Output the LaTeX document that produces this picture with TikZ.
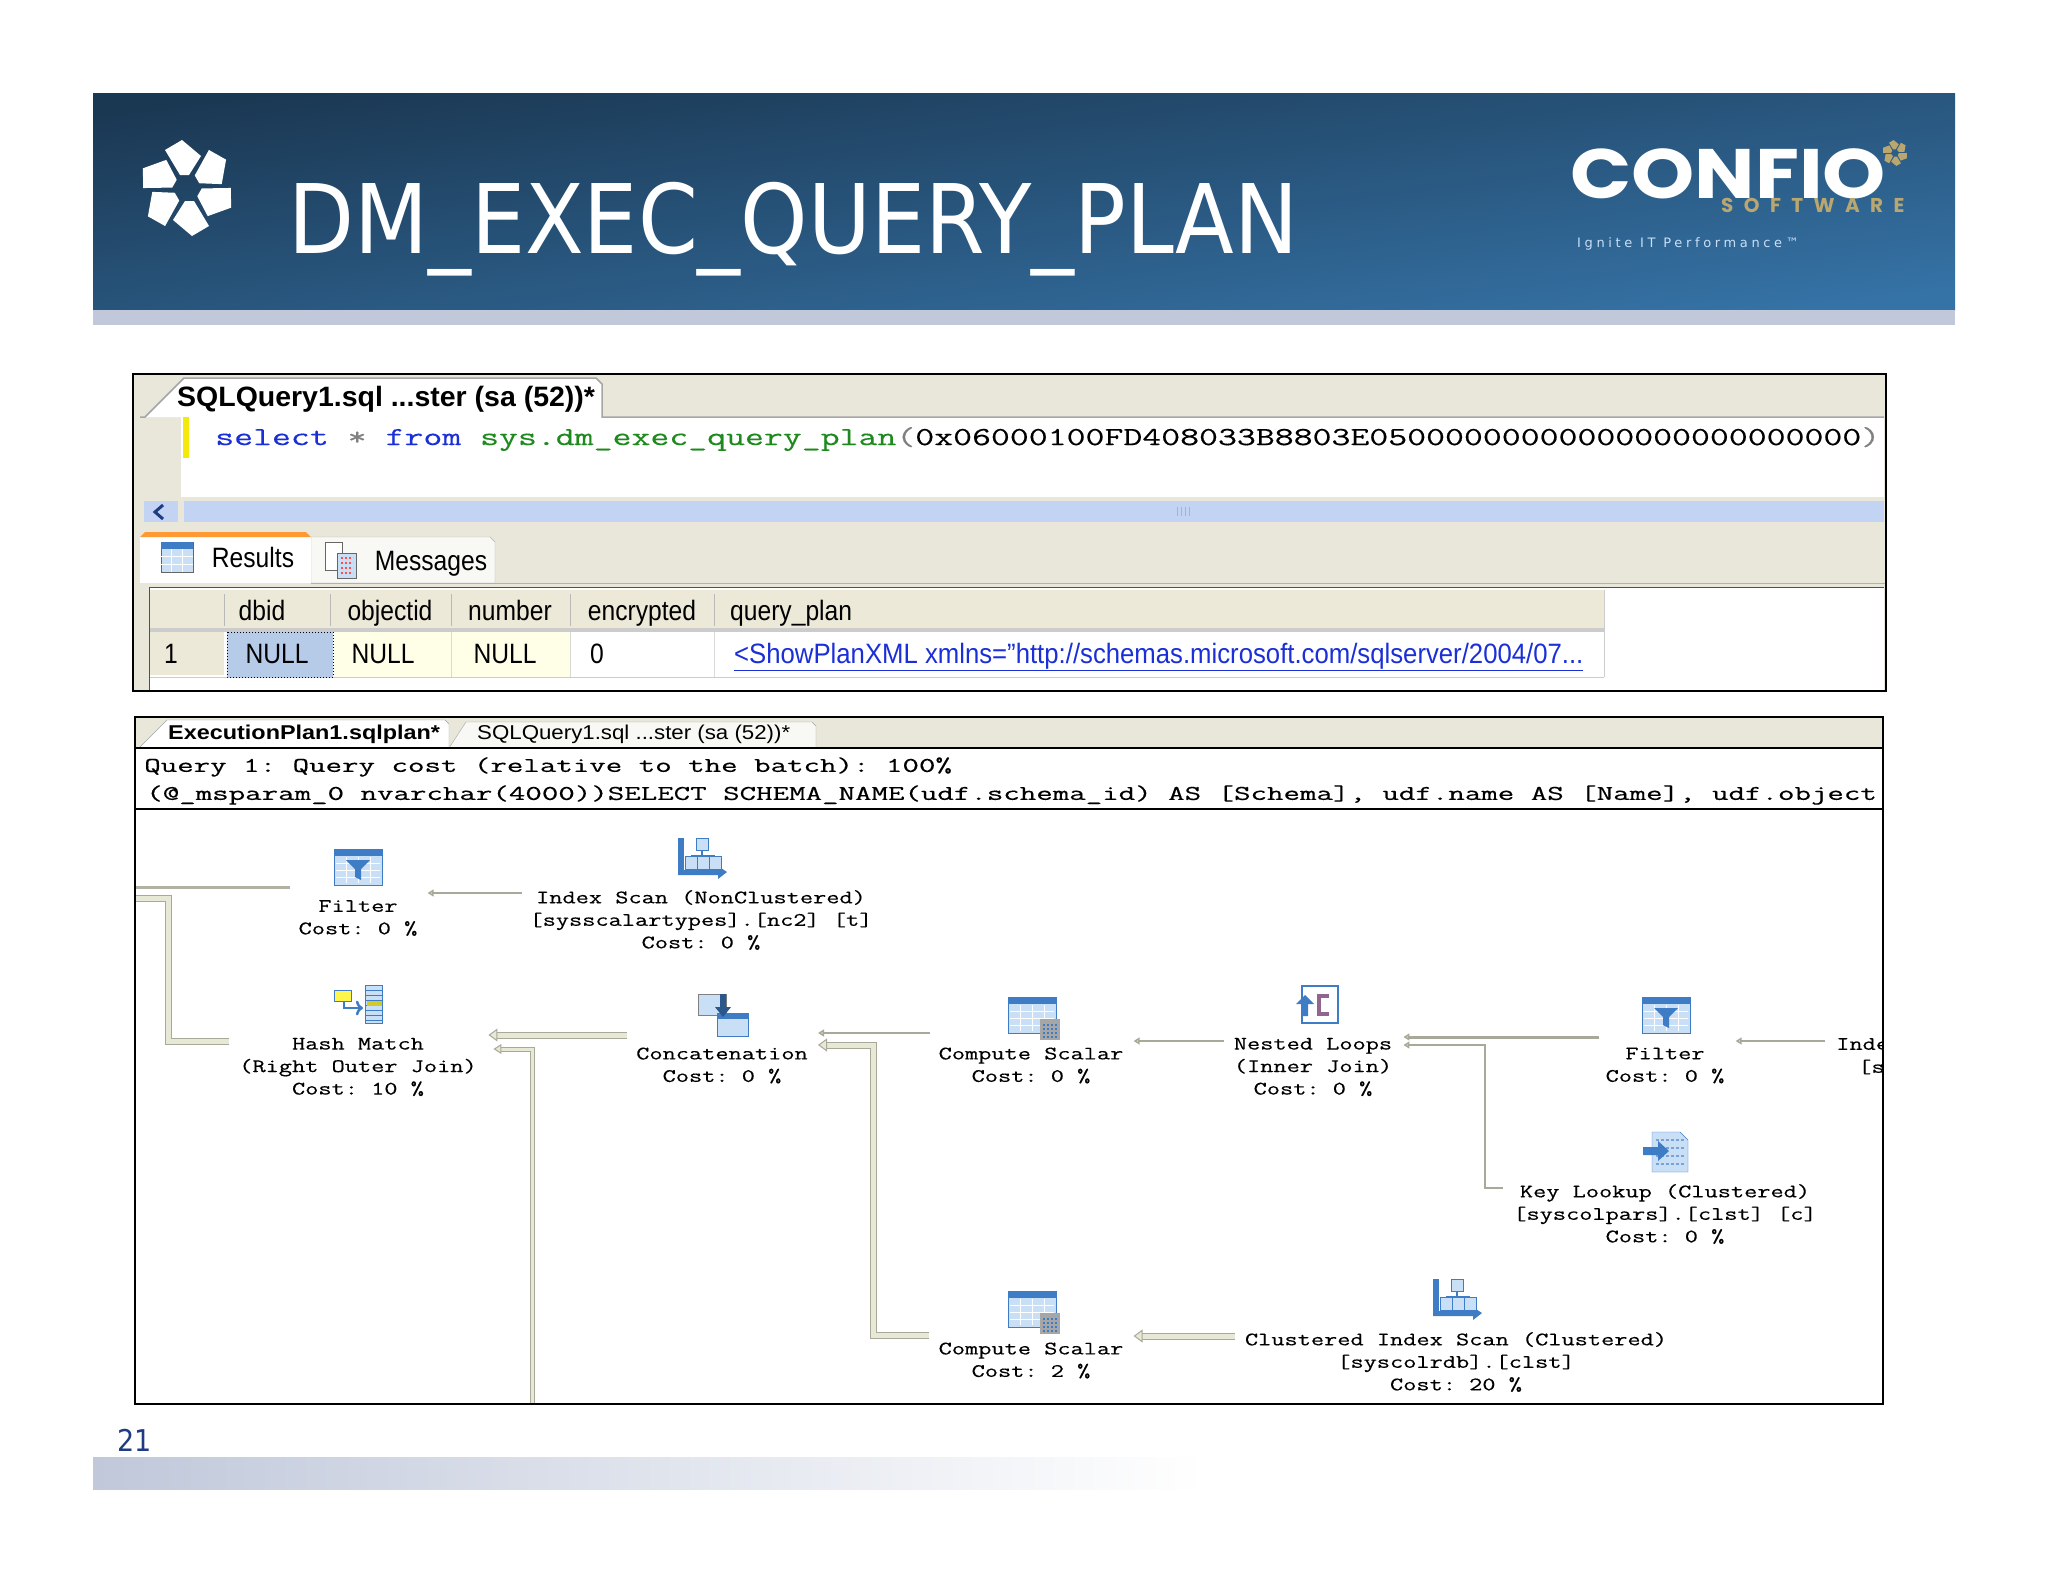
\documentclass[tikz,border=0pt]{standalone}
\usepackage{fontspec}
\setmainfont{Liberation Sans}
\setmonofont[FakeBold=0.3]{Latin Modern Mono}
\newfontfamily\titlefont{DejaVu Sans}
\newfontfamily\logofont{Poppins}
\newfontfamily\softfont[LetterSpace=52]{Poppins}
\newfontfamily\ignitefont[LetterSpace=28]{DejaVu Sans}
\usetikzlibrary{arrows,arrows.meta,positioning}
\definecolor{hdrdark}{HTML}{1B3853}
\definecolor{hdrlight}{HTML}{3572A5}
\definecolor{band}{HTML}{C0C8DA}
\definecolor{beige}{HTML}{E9E7DA}
\definecolor{rowhead}{HTML}{ECE9D8}
\definecolor{pale}{HTML}{FFFFE8}
\definecolor{scroll}{HTML}{C3D3F3}
\definecolor{sel}{HTML}{B5CBE8}
\definecolor{keyword}{HTML}{1A2FD8}
\definecolor{sysgreen}{HTML}{1E8A1E}
\definecolor{edge}{HTML}{A9A99A}
\definecolor{edgefill}{HTML}{E8E8D6}
\definecolor{gold}{HTML}{B9A76F}
\definecolor{navy}{HTML}{1F3B82}
\definecolor{iconblue}{HTML}{3F7CC6}
\definecolor{iconlight}{HTML}{C9DFF6}
\tikzset{
    %Define style for text
    plantext/.style={
           font=\ttfamily\fontsize{19}{22.5}\selectfont,
           inner sep=0pt,
           align=center,
           xscale=1.348,
           transform shape},
    headtext/.style={
           font=\ttfamily\fontsize{21}{24}\selectfont,
           inner sep=0pt,
           anchor=west,
           xscale=1.524,
           transform shape},
    gridtext/.style={
           font=\fontsize{28}{30}\selectfont,
           inner sep=0pt,
           text height=21pt,
           text depth=7pt,
           xscale=.88,
           transform shape},
    % Define arrow styles
    thinarrow/.style={
           draw=edge,
           line width=2pt,
           -{Triangle[open,fill=edgefill,width=7pt,length=6pt]}},
    midarrow/.style={
           draw=edge,
           line width=1pt,
           double=edgefill,
           double distance=3pt,
           -{Triangle[open,fill=edgefill,width=10pt,length=8pt]}},
    widearrow/.style={
           draw=edge,
           line width=1pt,
           double=edgefill,
           double distance=5pt,
           -{Triangle[open,fill=edgefill,width=13pt,length=9pt]}},
    % Define the small plan icons
    flower/.pic={
        \foreach \a in {0,60,...,300}
            \fill[pic actions,rotate=\a] (-22,-38) -- (-5,-48) -- (14,-32) -- (2,-13) -- (-7,-13) -- cycle;
    },
    gridbase/.pic={
        \fill[iconlight] (-24,-18) rectangle (24,18);
        \foreach \y in {-4,3,10} \draw[white,line width=.8pt] (-22,\y) -- (22,\y);
        \foreach \x in {-12,0,12} \draw[white,line width=.8pt] (\x,-10) -- (\x,16);
        \fill[iconblue] (-24,-18) rectangle (24,-11);
        \draw[iconblue,line width=1pt] (-24,-18) rectangle (24,18);
    },
    filtericon/.pic={
        \pic {gridbase};
        \fill[iconblue] (-12,-7) -- (12,-7) -- (3,2) -- (3,13) -- (-3,10) -- (-3,2) -- cycle;
    },
    computeicon/.pic={
        \pic {gridbase};
        \fill[gray!70] (8,4) rectangle (28,25);
        \foreach \y in {10,14,18,22} \draw[iconblue,line width=1.4pt,dash pattern=on 2pt off 2pt] (11,\y) -- (25,\y);
    },
    scanicon/.pic={
        \fill[iconblue] (-24,-20) rectangle (-18,14);
        \fill[iconblue] (-24,12) -- (16,12) -- (16,8) -- (25,14) -- (16,21) -- (16,17) -- (-24,17) -- cycle;
        \draw[iconblue,line width=1.5pt] (0,-10) -- (0,-2) (-11,-2) -- (13,-2);
        \fill[iconlight,draw=iconblue] (-6,-20) rectangle (6,-8);
        \foreach \x in {-11,1,13} \fill[iconlight,draw=iconblue,line width=1pt] (\x-6,-2) rectangle (\x+6,11);
    },
    hashicon/.pic={
        \fill[iconlight,draw=iconblue] (7,-19) rectangle (24,19);
        \foreach \y in {-14,-9,...,16} \draw[iconblue,line width=1pt] (7,\y) -- (24,\y);
        \fill[yellow!80!black] (9,-3) rectangle (24,2);
        \fill[yellow!70,draw=iconblue] (-24,-14) rectangle (-7,-3);
        \draw[iconblue,line width=2.5pt,->] (-14,-3) -- (-14,4) -- (5,4);
    },
    concaticon/.pic={
        \fill[iconlight,draw=gray] (-25,-21) rectangle (3,0);
        \fill[iconlight,draw=iconblue] (-6,-2) rectangle (25,21);
        \fill[iconblue] (-6,-2) rectangle (25,4);
        \fill[iconblue!70!black] (-3,-21) rectangle (3,-8) -- (8,-8) -- (0,2) -- (-8,-8) -- cycle;
    },
    loopicon/.pic={
        \draw[iconblue,line width=2pt,fill=white] (-15,-18) rectangle (21,19);
        \draw[black!45!violet!60,line width=3.5pt] (12,-8) -- (2,-8) -- (2,10) -- (12,10);
        \fill[iconblue] (-21,0) -- (-12,-9) -- (-3,0) -- (-9,0) -- (-9,12) -- (-15,12) -- (-15,0) -- cycle;
    },
    keyicon/.pic={
        \fill[iconlight,draw=iconblue] (-14,-20) -- (14,-20) -- (22,-12) -- (22,20) -- (-14,20) -- cycle;
        \foreach \y in {-12,-4,4,12} \draw[iconblue!70,line width=2pt,dash pattern=on 3pt off 2pt] (-10,\y) -- (19,\y);
        \fill[iconblue] (-23,-5) -- (-8,-5) -- (-8,-11) -- (3,-1) -- (-8,9) -- (-8,3) -- (-23,3) -- cycle;
    }
}
\begin{document}
\begin{tikzpicture}[x=1pt,y=-1pt]
\useasboundingbox (0,0) rectangle (2048,1582);
\fill[white] (0,0) rectangle (2048,1582);
% banner
\path[top color=hdrdark,bottom color=hdrlight,shading angle=7] (93,93) rectangle (1955,310);
\fill[band] (93,310) rectangle (1955,325);
\pic[fill=white] at (187,188) {flower};
\node[font=\titlefont\fontsize{96}{100}\selectfont,text=white,inner sep=0pt,anchor=base west,xscale=.893,transform shape](title) at (288,253){DM\_EXEC\_QUERY\_PLAN};
\node[font=\logofont\bfseries\fontsize{70}{72}\selectfont,text=white,inner sep=0pt,text depth=0pt,anchor=base west,xscale=1.148,transform shape](confio) at (1570,198){CONFIO};
\pic[fill=gold,scale=.27] at (1895,153) {flower};
\node[font=\softfont\bfseries\fontsize{20}{22}\selectfont,text=gold,inner sep=0pt,anchor=west,text height=13pt,text depth=0pt](software) at (1721,206){SOFTWARE};
\node[font=\ignitefont\fontsize{13}{15}\selectfont,text=iconlight,inner sep=0pt,anchor=west](ignite) at (1577,244){Ignite IT Performance™};
% query window
\fill[beige] (133,374) rectangle (1886,691);
\fill[white] (181,417) rectangle (1884,497);
\fill[white] (145,417) -- (184,378) -- (596,378) -- (602,384) -- (602,417) -- cycle;
\draw[gray!70,line width=1.5pt] (140,417) -- (145,417) -- (184,378) -- (596,378) -- (602,384) -- (602,417) -- (1884,417);
\fill[yellow!95!black] (183,417) rectangle (189,458);
\fill[scroll] (184,501) rectangle (1884,522);
\fill[scroll] (144,501) rectangle (178,522);
\foreach \x in {1177,1181,1185,1189} \draw[gray!60] (\x,507) -- (\x,516);
\draw[navy,line width=3pt] (163,505) -- (155,512) -- (163,519);
\node[font=\bfseries\fontsize{28}{30}\selectfont,inner sep=0pt,anchor=west,xscale=1.017,transform shape](qtab) at (177,399){SQLQuery1.sql ...ster (sa (52))*};
\node[font=\ttfamily\fontsize{26}{28}\selectfont,inner sep=0pt,anchor=west,xscale=1.413,transform shape](code) at (215,439){\textcolor{keyword}{select} \textcolor{gray}{*} \textcolor{keyword}{from} \textcolor{sysgreen}{sys.dm\_exec\_query\_plan}\textcolor{gray}{(}0x06000100FD408033B8803E05000000000000000000000000\textcolor{gray}{)}};
% results tabs
\fill[white!70!beige,draw=gray!60] (311,583) -- (311,537) -- (490,537) -- (495,542) -- (495,583) -- cycle;
\fill[white] (140,583) -- (140,537) -- (311,537) -- (311,583) -- cycle;
\fill[orange!80] (140,537) -- (145,532) -- (306,532) -- (311,537) -- cycle;
\draw[gray!60,line width=1pt] (311,583) -- (1886,583);
\fill[white] (149,587) rectangle (1884,691);
\draw[iconblue!70!black,line width=1pt] (149,691) -- (149,587) -- (1884,587);
\fill[iconlight,draw=gray!80!black] (161,542) rectangle (193,572);
\fill[iconblue] (161,542) rectangle (193,549);
\foreach \x in {171,182} \draw[white] (\x,549) -- (\x,572);
\foreach \y in {556,564} \draw[white] (161,\y) -- (193,\y);
\fill[white,draw=gray!80!black] (325,542) rectangle (342,570);
\fill[iconlight,draw=gray!80!black] (337,553) rectangle (356,578);
\foreach \y in {558,563,568,573} \draw[red!70,dash pattern=on 2pt off 2pt,line width=1.5pt] (341,\y) -- (353,\y);
\node[gridtext](results) at (253,560){Results};
\node[gridtext](messages) at (431,563){Messages};
% results grid
\fill[rowhead] (150,590) rectangle (1604,630);
\fill[rowhead] (150,632) rectangle (224,675);
\fill[pale] (333,632) rectangle (570,677);
\draw[gray!40] (150,677) -- (1604,677) (1604,590) -- (1604,677);
\fill[gray!40] (150,628) rectangle (1604,632);
\foreach \x in {224,330,451,570,714} \draw[gray!55] (\x,594) -- (\x,626);
\draw[gray!30] (451,632) -- (451,677) (570,632) -- (570,677) (714,632) -- (714,677);
\fill[sel] (227,632) rectangle (333,677);
\draw[black,dotted,line width=1pt] (227,632) rectangle (333,677);
\node[gridtext](dbid) at (262,613){dbid};
\node[gridtext](objectid) at (390,613){objectid};
\node[gridtext](number) at (510,613){number};
\node[gridtext](encrypted) at (642,613){encrypted};
\node[gridtext,anchor=west](queryplan) at (730,613){query\_plan};
\node[gridtext](rownum) at (171,656){1};
\node[gridtext](nulla) at (277,656){NULL};
\node[gridtext](nullb) at (383,656){NULL};
\node[gridtext](nullc) at (505,656){NULL};
\node[gridtext](zero) at (597,656){0};
\node[gridtext,anchor=west,text=keyword,xscale=1.044](link) at (734,656){\underline{<ShowPlanXML xmlns="http://schemas.microsoft.com/sqlserver/2004/07...}};
\draw[black,line width=2.5pt] (133,374) rectangle (1886,691);
% plan window
\fill[white] (135,717) rectangle (1883,1404);
\fill[beige] (135,717) rectangle (1883,748);
\fill[white!70!beige,draw=gray!70] (449,748) -- (466,722) -- (812,722) -- (816,726) -- (816,748) -- cycle;
\fill[white,draw=gray!70] (139,748) -- (167,720) -- (445,720) -- (449,724) -- (449,748) -- cycle;
\node[font=\bfseries\fontsize{20}{22}\selectfont,inner sep=0pt,anchor=west,xscale=1.17,transform shape](plantab) at (168,734){ExecutionPlan1.sqlplan*};
\node[font=\fontsize{20}{22}\selectfont,inner sep=0pt,anchor=west,xscale=1.113,transform shape](sqltab) at (477,734){SQLQuery1.sql ...ster (sa (52))*};
\draw[black,line width=1.5pt] (135,748) -- (1883,748);
\node[headtext](costline) at (144,767){Query 1: Query cost (relative to the batch): 100\%};
\node[headtext](stmtline) at (146,795){(@\_msparam\_0 nvarchar(4000))SELECT SCHEMA\_NAME(udf.schema\_id) AS [Schema], udf.name AS [Name], udf.object};
\draw[black,line width=1.5pt] (135,809) -- (1883,809);
% plan operators
\pic at (358,867) {filtericon};
\pic at (702,858) {scanicon};
\pic at (358,1004) {hashicon};
\pic at (723,1015) {concaticon};
\pic at (1032,1015) {computeicon};
\pic at (1317,1004) {loopicon};
\pic at (1666,1015) {filtericon};
\pic at (1666,1152) {keyicon};
\pic at (1457,1299) {scanicon};
\pic at (1032,1309) {computeicon};
\node[plantext](filtera) at (358,918){Filter\\Cost: 0 \%};
\node[plantext](idxscan) at (701,920){Index Scan (NonClustered)\\{[sysscalartypes].[nc2] [t]}\\Cost: 0 \%};
\node[plantext](hash) at (358,1067){Hash Match\\(Right Outer Join)\\Cost: 10 \%};
\node[plantext](conc) at (722,1065.5){Concatenation\\Cost: 0 \%};
\node[plantext](csa) at (1031,1065.5){Compute Scalar\\Cost: 0 \%};
\node[plantext](nl) at (1313,1067){Nested Loops\\(Inner Join)\\Cost: 0 \%};
\node[plantext](filterb) at (1665,1065.5){Filter\\Cost: 0 \%};
\node[plantext](key) at (1665,1214){Key Lookup (Clustered)\\{[syscolpars].[clst] [c]}\\Cost: 0 \%};
\node[plantext](csb) at (1031,1360.5){Compute Scalar\\Cost: 2 \%};
\node[plantext](cis) at (1456,1362){Clustered Index Scan (Clustered)\\{[syscolrdb].[clst]}\\Cost: 20 \%};
\begin{scope}
\clip (135,809) rectangle (1883,1404);
\node[plantext,anchor=west](idxcut) at (1836,1044){Inde};
\node[plantext,anchor=west](idxcutb) at (1858,1067){[s};
\end{scope}
\coordinate (lefta) at (136,898);
\coordinate (leftb) at (136,887);
\coordinate (bottoma) at (532,1403);
% connectors
\draw[thinarrow] ([xshift=-7pt,yshift=27pt]idxscan.west) -- ([xshift=10pt,yshift=25pt]filtera.east);
\draw[edge!90!white,line width=3pt] ([xshift=-8pt,yshift=31pt]filtera.west) -- (leftb);
\draw[widearrow,-] ([xshift=-10.5pt,yshift=26pt]hash.west) -- ++(-60,0) -- ++(0,-143) -- (lefta);
\draw[widearrow] ([xshift=-9pt,yshift=30.5pt]conc.west) -- ([xshift=11.5pt,yshift=32pt]hash.east);
\draw[midarrow] (bottoma) |- ([xshift=16.5pt,yshift=18pt]hash.east);
\draw[thinarrow] ([xshift=-8.6pt,yshift=32.5pt]csa.west) -- ([xshift=10pt,yshift=32.5pt]conc.east);
\draw[widearrow] ([xshift=-9.6pt,yshift=25.5pt]csb.west) -- ++(-55,0) -- ++(0,-290) -- ([xshift=10pt,yshift=20.5pt]conc.east);
\draw[thinarrow] ([xshift=-9.6pt,yshift=26pt]nl.west) -- ([xshift=10pt,yshift=24.5pt]csa.east);
\draw[thinarrow,line width=3pt] ([xshift=-6pt,yshift=28.5pt]filterb.west) -- ([xshift=11pt,yshift=30pt]nl.east);
\draw[thinarrow] ([xshift=-10pt,yshift=26pt]key.west) -- ++(-18,0) -- ++(0,-143) -- ([xshift=11pt,yshift=22pt]nl.east);
\draw[thinarrow] ([xshift=-11pt,yshift=3pt]idxcut.west) -- ([xshift=11pt,yshift=24.5pt]filterb.east);
\draw[widearrow] ([xshift=-10pt,yshift=26pt]cis.west) -- ([xshift=10pt,yshift=24.5pt]csb.east);
\draw[black,line width=2.5pt] (135,717) rectangle (1883,1404);
% footer
\path[left color=band,right color=white] (93,1457) rectangle (1205,1489);
\node[font=\titlefont\fontsize{30}{32}\selectfont,text=navy,inner sep=0pt,xscale=.9,transform shape](pageno) at (135,1440){21};
\end{tikzpicture}
\end{document}
